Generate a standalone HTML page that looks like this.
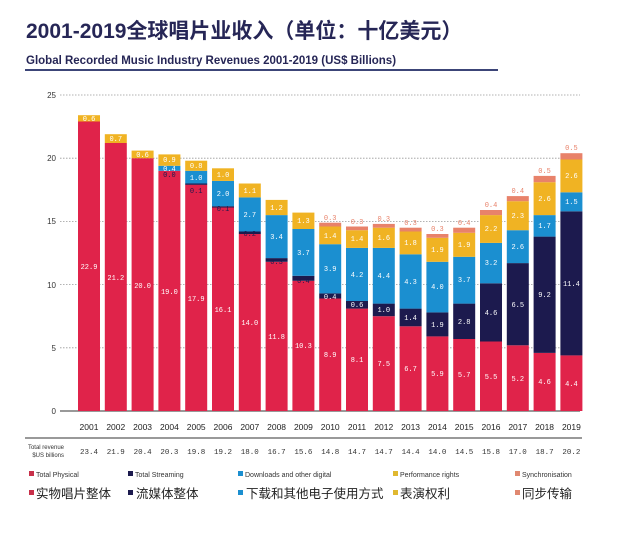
<!DOCTYPE html>
<html><head><meta charset="utf-8"><style>
body{margin:0;background:#fff;width:620px;height:529px;overflow:hidden;font-family:"Liberation Sans","Noto Sans CJK SC",sans-serif}
</style></head><body>
<svg width="620" height="529" xmlns="http://www.w3.org/2000/svg" font-family="Liberation Sans, Noto Sans CJK SC, sans-serif">
<text x="26" y="38" font-size="21" font-weight="bold" fill="#262656">2001-2019全球唱片业收入（单位：十亿美元）</text>
<text x="26" y="64" font-size="11.5" font-weight="bold" fill="#262656">Global Recorded Music Industry Revenues 2001-2019 (US$ Billions)</text>
<rect x="25" y="69" width="473" height="2" fill="#3c4578"/>
<g stroke="#999" stroke-width="0.8" stroke-dasharray="1.5,1.5">
<line x1="60" y1="95" x2="580" y2="95"/><line x1="60" y1="158.2" x2="580" y2="158.2"/><line x1="60" y1="221.4" x2="580" y2="221.4"/><line x1="60" y1="284.6" x2="580" y2="284.6"/><line x1="60" y1="347.8" x2="580" y2="347.8"/>
</g>
<line x1="60" y1="411" x2="580" y2="411" stroke="#333" stroke-width="1"/>
<g font-size="8" fill="#333" text-anchor="end"><text x="56" y="98">25</text><text x="56" y="161">20</text><text x="56" y="224">15</text><text x="56" y="288">10</text><text x="56" y="351">5</text><text x="56" y="414">0</text></g>
<g>
<!-- physical -->
<g fill="#e0234a">
<rect x="78" y="121.5" width="22" height="289.5"/><rect x="104.8" y="143" width="22" height="268"/><rect x="131.6" y="158.2" width="22" height="252.8"/><rect x="158.4" y="170.8" width="22" height="240.2"/><rect x="185.2" y="184.7" width="22" height="226.3"/><rect x="212" y="207.5" width="22" height="203.5"/><rect x="238.8" y="234" width="22" height="177"/><rect x="265.6" y="261.8" width="22" height="149.2"/><rect x="292.4" y="280.8" width="22" height="130.2"/><rect x="319.2" y="298.5" width="22" height="112.5"/><rect x="346" y="308.6" width="22" height="102.4"/><rect x="372.8" y="316.2" width="22" height="94.8"/><rect x="399.6" y="326.3" width="22" height="84.7"/><rect x="426.4" y="336.4" width="22" height="74.6"/><rect x="453.2" y="339" width="22" height="72"/><rect x="480" y="341.5" width="22" height="69.5"/><rect x="506.8" y="345.3" width="22" height="65.7"/><rect x="533.6" y="352.9" width="22" height="58.1"/><rect x="560.4" y="355.4" width="22" height="55.6"/>
</g>
<g fill="#1c1a4e">
<rect x="185.2" y="183.5" width="22" height="1.3"/><rect x="212" y="206.2" width="22" height="1.3"/><rect x="238.8" y="231.5" width="22" height="2.5"/><rect x="265.6" y="258.1" width="22" height="3.7"/><rect x="292.4" y="275.8" width="22" height="5"/><rect x="319.2" y="293.4" width="22" height="5.1"/><rect x="346" y="301" width="22" height="7.6"/><rect x="372.8" y="303.6" width="22" height="12.6"/><rect x="399.6" y="308.6" width="22" height="17.7"/><rect x="426.4" y="312.4" width="22" height="24"/><rect x="453.2" y="303.6" width="22" height="35.4"/><rect x="480" y="283.3" width="22" height="58.2"/><rect x="506.8" y="263.1" width="22" height="82.2"/><rect x="533.6" y="236.6" width="22" height="116.3"/><rect x="560.4" y="211.3" width="22" height="144.1"/>
</g>
<g fill="#1b8fd0">
<rect x="158.4" y="165.8" width="22" height="5"/><rect x="185.2" y="170.8" width="22" height="12.7"/><rect x="212" y="180.9" width="22" height="25.3"/><rect x="238.8" y="197.4" width="22" height="34.1"/><rect x="265.6" y="215.1" width="22" height="43"/><rect x="292.4" y="229" width="22" height="46.8"/><rect x="319.2" y="244.2" width="22" height="49.2"/><rect x="346" y="247.9" width="22" height="53.1"/><rect x="372.8" y="247.9" width="22" height="55.7"/><rect x="399.6" y="254.3" width="22" height="54.3"/><rect x="426.4" y="261.8" width="22" height="50.6"/><rect x="453.2" y="256.8" width="22" height="46.8"/><rect x="480" y="242.9" width="22" height="40.4"/><rect x="506.8" y="230.2" width="22" height="32.9"/><rect x="533.6" y="215.1" width="22" height="21.5"/><rect x="560.4" y="192.3" width="22" height="19"/>
</g>
<g fill="#f0b323">
<rect x="78" y="115.2" width="22" height="6.3"/><rect x="104.8" y="134.2" width="22" height="8.8"/><rect x="131.6" y="150.6" width="22" height="7.6"/><rect x="158.4" y="154.4" width="22" height="11.4"/><rect x="185.2" y="160.7" width="22" height="10.1"/><rect x="212" y="168.3" width="22" height="12.6"/><rect x="238.8" y="183.5" width="22" height="13.9"/><rect x="265.6" y="199.9" width="22" height="15.2"/><rect x="292.4" y="212.6" width="22" height="16.4"/><rect x="319.2" y="226.5" width="22" height="17.7"/><rect x="346" y="230.2" width="22" height="17.7"/><rect x="372.8" y="227.7" width="22" height="20.2"/><rect x="399.6" y="231.5" width="22" height="22.8"/><rect x="426.4" y="237.8" width="22" height="24"/><rect x="453.2" y="232.8" width="22" height="24"/><rect x="480" y="215.1" width="22" height="27.8"/><rect x="506.8" y="201.2" width="22" height="29"/><rect x="533.6" y="182.2" width="22" height="32.9"/><rect x="560.4" y="159.5" width="22" height="32.8"/>
</g>
<g fill="#e8826a">
<rect x="319.2" y="222.7" width="22" height="3.8"/><rect x="346" y="226.5" width="22" height="3.7"/><rect x="372.8" y="223.9" width="22" height="3.8"/><rect x="399.6" y="227.7" width="22" height="3.8"/><rect x="426.4" y="234" width="22" height="3.8"/><rect x="453.2" y="227.7" width="22" height="5.1"/><rect x="480" y="210" width="22" height="5.1"/><rect x="506.8" y="196.1" width="22" height="5.1"/><rect x="533.6" y="175.9" width="22" height="6.3"/><rect x="560.4" y="153.2" width="22" height="6.3"/>
</g>
</g>
<g font-size="7" fill="#fff" text-anchor="middle" font-family="Liberation Mono, monospace">
<text x="89" y="269">22.9</text><text x="115.8" y="280">21.2</text><text x="142.6" y="288">20.0</text><text x="169.4" y="294">19.0</text><text x="196.2" y="301">17.9</text><text x="223" y="312">16.1</text><text x="249.8" y="325">14.0</text><text x="276.6" y="339">11.8</text><text x="303.4" y="348">10.3</text><text x="330.2" y="357">8.9</text><text x="357" y="362">8.1</text><text x="383.8" y="366">7.5</text><text x="410.6" y="371">6.7</text><text x="437.4" y="376">5.9</text><text x="464.2" y="377">5.7</text><text x="491" y="379">5.5</text><text x="517.8" y="381">5.2</text><text x="544.6" y="384">4.6</text><text x="571.4" y="386">4.4</text>
<text x="89" y="121">0.6</text><text x="115.8" y="141">0.7</text><text x="142.6" y="157">0.6</text><text x="169.4" y="162">0.9</text><text x="196.2" y="168">0.8</text><text x="223" y="177">1.0</text><text x="249.8" y="193">1.1</text><text x="276.6" y="210">1.2</text><text x="303.4" y="223">1.3</text><text x="330.2" y="238">1.4</text><text x="357" y="241">1.4</text><text x="383.8" y="240">1.6</text><text x="410.6" y="245">1.8</text><text x="437.4" y="252">1.9</text><text x="464.2" y="247">1.9</text><text x="491" y="231">2.2</text><text x="517.8" y="218">2.3</text><text x="544.6" y="201">2.6</text><text x="571.4" y="178">2.6</text>
<text x="169.4" y="171">0.4</text><text x="196.2" y="180">1.0</text><text x="223" y="196">2.0</text><text x="249.8" y="217">2.7</text><text x="276.6" y="239">3.4</text><text x="303.4" y="255">3.7</text><text x="330.2" y="271">3.9</text><text x="357" y="277">4.2</text><text x="383.8" y="278">4.4</text><text x="410.6" y="284">4.3</text><text x="437.4" y="289">4.0</text><text x="464.2" y="282">3.7</text><text x="491" y="265">3.2</text><text x="517.8" y="249">2.6</text><text x="544.6" y="228">1.7</text><text x="571.4" y="204">1.5</text>
<text x="330.2" y="299">0.4</text><text x="357" y="307">0.6</text><text x="383.8" y="312">1.0</text><text x="410.6" y="320">1.4</text><text x="437.4" y="327">1.9</text><text x="464.2" y="324">2.8</text><text x="491" y="315">4.6</text><text x="517.8" y="307">6.5</text><text x="544.6" y="297">9.2</text><text x="571.4" y="286">11.4</text>
</g>
<g font-size="7" fill="#1c1a4e" text-anchor="middle" font-family="Liberation Mono, monospace"><text x="169.4" y="177">0.0</text><text x="196.2" y="193">0.1</text><text x="223" y="211">0.1</text><text x="249.8" y="236">0.2</text><text x="276.6" y="264">0.3</text><text x="303.4" y="283">0.4</text></g>
<g font-size="7" fill="#e8826a" text-anchor="middle" font-family="Liberation Mono, monospace">
<text x="330.2" y="220">0.3</text><text x="357" y="224">0.3</text><text x="383.8" y="221">0.3</text><text x="410.6" y="225">0.3</text><text x="437.4" y="231">0.3</text><text x="464.2" y="225">0.4</text><text x="491" y="207">0.4</text><text x="517.8" y="193">0.4</text><text x="544.6" y="173">0.5</text><text x="571.4" y="150">0.5</text>
</g>
<g font-size="8.5" fill="#222" text-anchor="middle">
<text x="89" y="430">2001</text><text x="115.8" y="430">2002</text><text x="142.6" y="430">2003</text><text x="169.4" y="430">2004</text><text x="196.2" y="430">2005</text><text x="223" y="430">2006</text><text x="249.8" y="430">2007</text><text x="276.6" y="430">2008</text><text x="303.4" y="430">2009</text><text x="330.2" y="430">2010</text><text x="357" y="430">2011</text><text x="383.8" y="430">2012</text><text x="410.6" y="430">2013</text><text x="437.4" y="430">2014</text><text x="464.2" y="430">2015</text><text x="491" y="430">2016</text><text x="517.8" y="430">2017</text><text x="544.6" y="430">2018</text><text x="571.4" y="430">2019</text>
</g>
<line x1="25" y1="438" x2="582" y2="438" stroke="#333" stroke-width="1"/>
<g font-size="6" fill="#333" text-anchor="end"><text x="64" y="449">Total revenue</text><text x="64" y="457">$US billions</text></g>
<g font-size="7.5" fill="#333" text-anchor="middle" font-family="Liberation Mono, monospace">
<text x="89" y="454">23.4</text><text x="115.8" y="454">21.9</text><text x="142.6" y="454">20.4</text><text x="169.4" y="454">20.3</text><text x="196.2" y="454">19.8</text><text x="223" y="454">19.2</text><text x="249.8" y="454">18.0</text><text x="276.6" y="454">16.7</text><text x="303.4" y="454">15.6</text><text x="330.2" y="454">14.8</text><text x="357" y="454">14.7</text><text x="383.8" y="454">14.7</text><text x="410.6" y="454">14.4</text><text x="437.4" y="454">14.0</text><text x="464.2" y="454">14.5</text><text x="491" y="454">15.8</text><text x="517.8" y="454">17.0</text><text x="544.6" y="454">18.7</text><text x="571.4" y="454">20.2</text>
</g>
<g font-size="7" fill="#333">
<rect x="29" y="471" width="5" height="5" fill="#c8304a"/><text x="36" y="477">Total Physical</text>
<rect x="128" y="471" width="5" height="5" fill="#1c1a4e"/><text x="135" y="477">Total Streaming</text>
<rect x="238" y="471" width="5" height="5" fill="#1b8fd0"/><text x="245" y="477">Downloads and other digital</text>
<rect x="393" y="471" width="5" height="5" fill="#e0b830"/><text x="400" y="477">Performance rights</text>
<rect x="515" y="471" width="5" height="5" fill="#e08870"/><text x="522" y="477">Synchronisation</text>
</g>
<g font-size="12.5" fill="#222">
<rect x="29" y="490" width="5" height="5" fill="#c8304a"/><text x="36" y="498">实物唱片整体</text>
<rect x="128" y="490" width="5" height="5" fill="#1c1a4e"/><text x="136" y="498">流媒体整体</text>
<rect x="238" y="490" width="5" height="5" fill="#1b8fd0"/><text x="246" y="498">下载和其他电子使用方式</text>
<rect x="393" y="490" width="5" height="5" fill="#e0b830"/><text x="400" y="498">表演权利</text>
<rect x="515" y="490" width="5" height="5" fill="#e08870"/><text x="522" y="498">同步传输</text>
</g>
</svg>
</body></html>
